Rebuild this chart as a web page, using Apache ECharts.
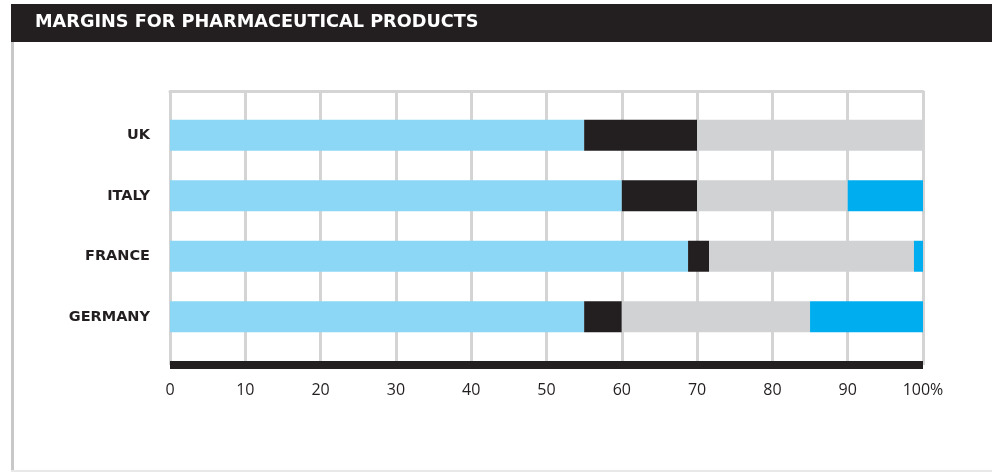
<!DOCTYPE html>
<html>
<head>
<meta charset="utf-8">
<style>
  html, body { margin: 0; padding: 0; background: #ffffff; }
  #chart { width: 992px; height: 472px; }
</style>
<script src="https://cdn.jsdelivr.net/npm/echarts@6/dist/echarts.min.js"></script>
</head>
<body>
<div id="chart"></div>
<script>
// Countries, top to bottom
const countries = ['UK', 'ITALY', 'FRANCE', 'GERMANY'];

// Stacked shares (percent of the price), one array per segment
const lightBlueShare = [55, 60, 68.8, 55];
const blackShare     = [15, 10, 2.8, 5];
const greyShare      = [30, 20, 27.2, 25];
const blueShare      = [0, 10, 1.2, 15];

// Axis tick labels
const tickLabels = ['0', '10', '20', '30', '40', '50', '60', '70', '80', '90', '100%'];

const segments = [
  { data: lightBlueShare, color: '#8dd7f6' },
  { data: blackShare,     color: '#231f20' },
  { data: greyShare,      color: '#d1d2d4' },
  { data: blueShare,      color: '#00aeef' }
];

const chart = echarts.init(document.getElementById('chart'), null, { renderer: 'canvas' });

chart.setOption({
  animation: false,
  backgroundColor: '#ffffff',
  graphic: [
    { type: 'rect', shape: { x: 11, y: 4, width: 981, height: 38 }, style: { fill: '#231f20' }, silent: true },
    { type: 'text', left: 35, top: 13, style: { text: 'MARGINS FOR PHARMACEUTICAL PRODUCTS', fill: '#ffffff', font: 'bold 17.7px "DejaVu Sans"' }, silent: true },
    { type: 'rect', shape: { x: 11, y: 42, width: 3, height: 430 }, style: { fill: '#c8c8c8' }, silent: true },
    { type: 'rect', shape: { x: 11, y: 470, width: 981, height: 2 }, style: { fill: '#e8e8e8' }, silent: true }
  ],
  grid: [
    { left: 170, top: 91, width: 753, height: 274 },
    { left: 170, top: 105, width: 753, height: 242 }
  ],
  xAxis: [
    {
      gridIndex: 0, type: 'value', min: 0, max: 100, interval: 10, position: 'bottom',
      axisLine: { show: true, lineStyle: { color: '#231f20', width: 8, cap: 'butt' } },
      axisTick: { show: false },
      splitLine: { show: true, lineStyle: { color: '#d4d4d4', width: 3 } },
      axisLabel: {
        margin: 17, color: '#231f20', fontSize: 16, fontFamily: 'Open Sans',
        formatter: function (v) { return tickLabels[Math.round(v / 10)]; }
      }
    },
    {
      gridIndex: 0, type: 'value', min: 0, max: 100, position: 'top',
      axisLine: { show: true, lineStyle: { color: '#d4d4d4', width: 3 } },
      axisTick: { show: false }, axisLabel: { show: false }, splitLine: { show: false }
    },
    {
      gridIndex: 1, type: 'value', min: 0, max: 100, show: false
    }
  ],
  yAxis: [
    {
      gridIndex: 0, type: 'category', data: countries, show: false
    },
    {
      gridIndex: 1, type: 'category', data: countries, inverse: true,
      axisLine: { show: false }, axisTick: { show: false },
      axisLabel: { margin: 20, color: '#231f20', fontSize: 14.5, fontWeight: 'bold', fontFamily: 'DejaVu Sans' }
    }
  ],
  series: segments.map(function (s) {
    return {
      type: 'bar', stack: 'total', xAxisIndex: 2, yAxisIndex: 1,
      barWidth: 31, data: s.data,
      itemStyle: { color: s.color },
      silent: true
    };
  })
});
</script>
</body>
</html>
